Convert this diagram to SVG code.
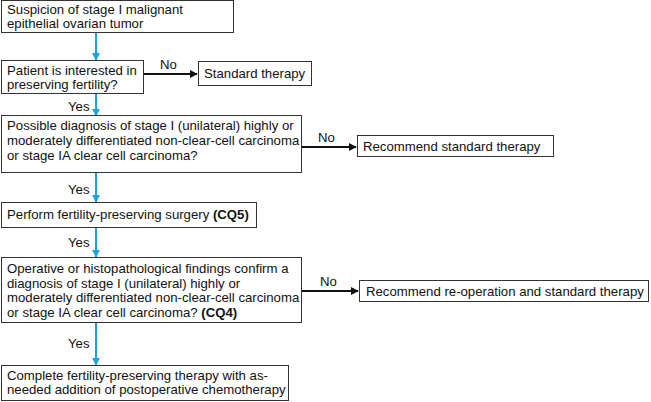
<svg xmlns="http://www.w3.org/2000/svg" width="651" height="402" viewBox="0 0 651 402">
<defs>
<style>
.box{fill:#fff;stroke:#333;stroke-width:1}
.t{font-family:"Liberation Sans",Arial,sans-serif;font-size:13.2px;fill:#111}
.b{font-weight:bold}
.blue{stroke:#1aa3e0;stroke-width:2;fill:none}
.blk{stroke:#111;stroke-width:2;fill:none}
</style>
<marker id="ab" viewBox="0 0 10 10" refX="9" refY="5" markerWidth="4" markerHeight="4" orient="auto"><path d="M0,0 L10,5 L0,10 z" fill="#1aa3e0"/></marker>
<marker id="ak" viewBox="0 0 10 10" refX="9" refY="5" markerWidth="4" markerHeight="4" orient="auto"><path d="M0,0 L10,5 L0,10 z" fill="#111"/></marker>
</defs>
<rect width="651" height="402" fill="#fff"/>
<g id="connectors">
<line class="blue" x1="96" y1="33" x2="96" y2="60" marker-end="url(#ab)"/>
<line class="blk" x1="143" y1="74" x2="197" y2="74" marker-end="url(#ak)"/>
<text class="t" x="160" y="69">No</text>
<line class="blue" x1="96" y1="94" x2="96" y2="116" marker-end="url(#ab)"/>
<text class="t" x="68" y="111">Yes</text>
<line class="blk" x1="302" y1="147" x2="356" y2="147" marker-end="url(#ak)"/>
<text class="t" x="318" y="142">No</text>
<line class="blue" x1="96" y1="173" x2="96" y2="202" marker-end="url(#ab)"/>
<text class="t" x="68" y="194">Yes</text>
<line class="blue" x1="96" y1="228" x2="96" y2="257" marker-end="url(#ab)"/>
<text class="t" x="68" y="247">Yes</text>
<line class="blk" x1="302" y1="291" x2="358" y2="291" marker-end="url(#ak)"/>
<text class="t" x="320" y="286">No</text>
<line class="blue" x1="96" y1="323" x2="96" y2="365" marker-end="url(#ab)"/>
<text class="t" x="68" y="348">Yes</text>
</g>
<g id="n1"><rect class="box" x="1.5" y="0.5" width="232" height="32"/>
<text class="t" x="7" y="14">Suspicion of stage I malignant</text>
<text class="t" x="7" y="28">epithelial ovarian tumor</text></g>
<g id="n2"><rect class="box" x="1.5" y="60.5" width="142" height="33"/>
<text class="t" x="7" y="75">Patient is interested in</text>
<text class="t" x="7" y="89">preserving fertility?</text></g>
<g id="n3"><rect class="box" x="198.5" y="61.5" width="113" height="24"/>
<text class="t" x="204" y="78">Standard therapy</text></g>
<g id="n4"><rect class="box" x="1.5" y="115.5" width="300" height="57"/>
<text class="t" x="7" y="130">Possible diagnosis of stage I (unilateral) highly or</text>
<text class="t" x="7" y="145">moderately differentiated non-clear-cell carcinoma</text>
<text class="t" x="7" y="160">or stage IA clear cell carcinoma?</text></g>
<g id="n5"><rect class="box" x="357.5" y="135.5" width="196" height="21"/>
<text class="t" x="363" y="151">Recommend standard therapy</text></g>
<g id="n6"><rect class="box" x="1.5" y="202.5" width="255" height="25"/>
<text class="t" x="7" y="219">Perform fertility-preserving surgery <tspan class="b">(CQ5)</tspan></text></g>
<g id="n7"><rect class="box" x="1.5" y="257.5" width="300" height="65"/>
<text class="t" x="7" y="273">Operative or histopathological findings confirm a</text>
<text class="t" x="7" y="288">diagnosis of stage I (unilateral) highly or</text>
<text class="t" x="7" y="302">moderately differentiated non-clear-cell carcinoma</text>
<text class="t" x="7" y="317">or stage IA clear cell carcinoma? <tspan class="b">(CQ4)</tspan></text></g>
<g id="n8"><rect class="box" x="359.5" y="280.5" width="289" height="21"/>
<text class="t" x="366" y="296">Recommend re-operation and standard therapy</text></g>
<g id="n9"><rect class="box" x="1.5" y="365.5" width="287" height="35"/>
<text class="t" x="7" y="380">Complete fertility-preserving therapy with as-</text>
<text class="t" x="7" y="394">needed addition of postoperative chemotherapy</text></g>
</svg>
